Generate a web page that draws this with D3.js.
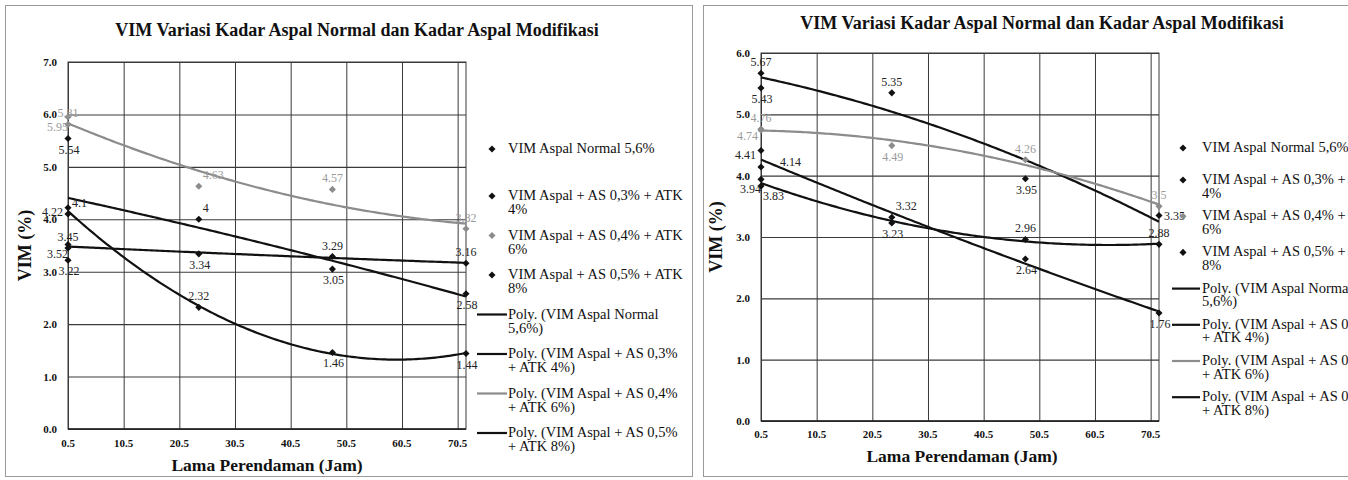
<!DOCTYPE html>
<html>
<head>
<meta charset="utf-8">
<script src="https://cdn.jsdelivr.net/npm/d3@7/dist/d3.min.js"></script>
<style>
body { margin: 0; background: #fff; }
text { font-family: "Liberation Serif", "Times New Roman", serif; fill: #111; }
</style>
</head>
<body>
<svg id="chart" width="1348" height="480"></svg>
<script>
// Data
const hours = [0.5, 0.5, 24, 48, 72];   // two readings at 0.5 h
const xTickValues = [0.5, 10.5, 20.5, 30.5, 40.5, 50.5, 60.5, 70.5];
const chartTitle = 'VIM Variasi Kadar Aspal Normal dan Kadar Aspal Modifikasi';
const xTitle = 'Lama Perendaman (Jam)';
const yTitle = 'VIM (%)';

const seriesLegend = [
    ['VIM Aspal Normal 5,6%'],
    ['VIM Aspal + AS 0,3% + ATK', '4%'],
    ['VIM Aspal + AS 0,4% + ATK', '6%'],
    ['VIM Aspal + AS 0,5% + ATK', '8%']
];
const trendLegend = [
    ['Poly. (VIM Aspal Normal', '5,6%)'],
    ['Poly. (VIM Aspal + AS 0,3%', '+ ATK 4%)'],
    ['Poly. (VIM Aspal + AS 0,4%', '+ ATK 6%)'],
    ['Poly. (VIM Aspal + AS 0,5%', '+ ATK 8%)']
];

// left chart
const leftYTicks = [0, 1, 2, 3, 4, 5, 6, 7];
const leftNormal = [3.52, 3.45, 3.34, 3.29, 3.16];
const leftAS03 = [5.54, 3.22, 4, 3.05, 2.58];
const leftAS04 = [5.81, 5.95, 4.63, 4.57, 3.82];
const leftAS05 = [4.1, 4.22, 2.32, 1.46, 1.44];

// right chart
const rightYTicks = [0, 1, 2, 3, 4, 5, 6];
const rightNormal = [3.94, 3.83, 3.23, 2.96, 2.88];
const rightAS03 = [5.67, 5.43, 5.35, 3.95, 3.35];
const rightAS04 = [4.76, 4.74, 4.49, 4.26, 3.5];
const rightAS05 = [4.41, 4.14, 3.32, 2.64, 1.76];

// label placement (a above, b below, l left, r right, corners)
const leftLabelPos = [
    ['bl', 'a', 'b', 'a', 'a'],
    ['b', 'b', 'ar', 'b', 'b'],
    ['a', 'bl', 'ar', 'a', 'a'],
    ['ar', 'l', 'a', 'b', 'b']
];
const rightLabelPos = [
    ['bl', 'br', 'b', 'a', 'a'],
    ['a', 'b', 'a', 'b', 'r'],
    ['a', 'lb', 'b', 'a', 'a'],
    ['l', 'rr', 'ar', 'b', 'b']
];

const seriesColors = ['#111', '#111', '#8c8c8c', '#111'];
const labelColors = ['#222', '#222', '#9a9a9a', '#222'];

const svg = d3.select('#chart');

//Panel frames
svg.append('rect').attr('x', 5.5).attr('y', 5.5).attr('width', 687).attr('height', 471)
    .attr('fill', 'none').attr('stroke', '#9a9a9a');
svg.append('rect').attr('x', 703.5).attr('y', 5.5).attr('width', 700).attr('height', 471)
    .attr('fill', 'none').attr('stroke', '#9a9a9a');

//Quadratic least squares fit (Excel "Poly." trendline, order 2)
function polyfit2(xs, ys) {
    const S = [[0, 0, 0], [0, 0, 0], [0, 0, 0]];
    const T = [0, 0, 0];
    xs.forEach((x, i) => {
        const p = [1, x, x * x];
        for (let r = 0; r < 3; r++) {
            T[r] += p[r] * ys[i];
            for (let c = 0; c < 3; c++) S[r][c] += p[r] * p[c];
        }
    });
    // gaussian elimination
    const M = S.map((row, i) => row.concat(T[i]));
    for (let i = 0; i < 3; i++) {
        for (let k = i + 1; k < 3; k++) {
            const f = M[k][i] / M[i][i];
            for (let j = i; j < 4; j++) M[k][j] -= f * M[i][j];
        }
    }
    const coef = [0, 0, 0];
    for (let i = 2; i >= 0; i--) {
        let s = M[i][3];
        for (let j = i + 1; j < 3; j++) s -= M[i][j] * coef[j];
        coef[i] = s / M[i][i];
    }
    return x => coef[0] + coef[1] * x + coef[2] * x * x;
}

const labelOffset = {
    a:  {dx: 0, dy: -7, anchor: 'middle'},
    b:  {dx: 1, dy: 15, anchor: 'middle'},
    l:  {dx: -5, dy: 8, anchor: 'end'},
    lb: {dx: -3, dy: 10, anchor: 'end'},
    r:  {dx: 5, dy: 4, anchor: 'start'},
    rr: {dx: 19, dy: -1, anchor: 'start'},
    ar: {dx: 4, dy: -7, anchor: 'start'},
    br: {dx: 2, dy: 14, anchor: 'start'},
    bl: {dx: 0, dy: 14, anchor: 'end'}
};

function drawChart(cfg) {
    const g = svg.append('g');
    const x = d3.scaleLinear().domain([0.5, 72]).range([cfg.left, cfg.right]);
    const y = d3.scaleLinear().domain([0, d3.max(cfg.yTicks)]).range([cfg.bottom, cfg.top]);

    //Title
    g.append('text')
        .attr('x', cfg.titleX).attr('y', cfg.titleY)
        .attr('text-anchor', 'middle')
        .style('font-size', '18px').style('font-weight', 'bold')
        .text(chartTitle);

    //Grid lines
    g.append('g')
        .attr('transform', `translate(${cfg.left}, 0)`)
        .call(d3.axisLeft(y).tickValues(cfg.yTicks).tickSize(-(cfg.right - cfg.left)).tickFormat(''))
        .call(a => a.select('.domain').remove())
        .call(a => a.selectAll('line').attr('stroke', '#3a3a3a').attr('stroke-width', 1.1));
    g.append('g')
        .attr('transform', `translate(0, ${cfg.bottom})`)
        .call(d3.axisBottom(x).tickValues(xTickValues).tickSize(-(cfg.bottom - cfg.top)).tickFormat(''))
        .call(a => a.select('.domain').remove())
        .call(a => a.selectAll('line').attr('stroke', '#3a3a3a').attr('stroke-width', 1));
    g.append('rect')
        .attr('x', cfg.left).attr('y', cfg.top)
        .attr('width', cfg.right - cfg.left).attr('height', cfg.bottom - cfg.top)
        .attr('fill', 'none').attr('stroke', '#3a3a3a');
    g.append('line')
        .attr('x1', cfg.left).attr('x2', cfg.right)
        .attr('y1', cfg.bottom).attr('y2', cfg.bottom)
        .attr('stroke', '#222').attr('stroke-width', 1.6);

    //Tick labels
    g.selectAll('.ytl').data(cfg.yTicks).enter().append('text')
        .attr('x', cfg.yLabelEnd).attr('y', d => y(d) + 4)
        .attr('text-anchor', 'end')
        .style('font-size', '11px').style('font-weight', 'bold')
        .text(d => d3.format('.1f')(d));
    g.selectAll('.xtl').data(xTickValues).enter().append('text')
        .attr('x', d => x(d)).attr('y', cfg.xLabelY)
        .attr('text-anchor', 'middle')
        .style('font-size', '11px').style('font-weight', 'bold')
        .text(d => d3.format('.1f')(d));

    //Axis titles
    g.append('text')
        .attr('x', cfg.xTitleX).attr('y', cfg.xTitleY)
        .attr('text-anchor', 'middle')
        .style('font-size', '17.5px').style('font-weight', 'bold')
        .text(xTitle);
    g.append('text')
        .attr('transform', `translate(${cfg.yTitleX}, ${(cfg.top + cfg.bottom) / 2}) rotate(-90)`)
        .attr('text-anchor', 'middle')
        .style('font-size', '18px').style('font-weight', 'bold')
        .text(yTitle);

    //Trend lines
    const line = d3.line().x(d => x(d[0])).y(d => y(d[1]));
    cfg.series.forEach((vals, i) => {
        const f = polyfit2(hours, vals);
        const pts = d3.range(0.5, 72.01, 0.5).map(h => [h, f(h)]);
        g.append('path')
            .attr('d', line(pts))
            .attr('fill', 'none')
            .attr('stroke', seriesColors[i])
            .attr('stroke-width', 2.2);
    });

    //Markers and labels
    const diamond = d3.symbol().type(d3.symbolDiamond2).size(32);
    cfg.series.forEach((vals, i) => {
        const pts = vals.map((v, j) => ({h: hours[j], v: v, pos: cfg.labelPos[i][j]}));
        g.selectAll(null).data(pts).enter().append('path')
            .attr('d', diamond)
            .attr('transform', d => `translate(${x(d.h)}, ${y(d.v)})`)
            .attr('fill', seriesColors[i]);
        g.selectAll(null).data(pts).enter().append('text')
            .attr('x', d => x(d.h) + labelOffset[d.pos].dx)
            .attr('y', d => y(d.v) + labelOffset[d.pos].dy)
            .attr('text-anchor', d => labelOffset[d.pos].anchor)
            .style('font-size', '12px')
            .style('fill', labelColors[i])
            .text(d => String(d.v));
    });

    //Legend
    const items = seriesLegend.map((t, i) => ({lines: t, kind: 'marker', i: i}))
        .concat(trendLegend.map((t, i) => ({lines: t, kind: 'line', i: i})));
    items.forEach((d, k) => {
        const base = k === 0 ? cfg.legendFirst : cfg.legendTop + (k - 1) * cfg.legendStep;
        if (d.kind === 'marker') {
            g.append('path').attr('d', diamond)
                .attr('transform', `translate(${cfg.legendMarkX}, ${base - 4})`)
                .attr('fill', seriesColors[d.i]);
        } else {
            g.append('line')
                .attr('x1', cfg.legendLineX[0]).attr('x2', cfg.legendLineX[1])
                .attr('y1', base - 4).attr('y2', base - 4)
                .attr('stroke', seriesColors[d.i]).attr('stroke-width', 2.2);
        }
        const t = g.append('text')
            .attr('x', cfg.legendTextX).attr('y', base)
            .style('font-size', '14.5px');
        d.lines.forEach((s, n) => {
            t.append('tspan').attr('x', cfg.legendTextX).attr('dy', n === 0 ? 0 : cfg.legendLine).text(s);
        });
    });
}

drawChart({
    series: [leftNormal, leftAS03, leftAS04, leftAS05],
    labelPos: leftLabelPos,
    yTicks: leftYTicks,
    left: 68, right: 466, top: 62, bottom: 429,
    titleX: 357, titleY: 36,
    yLabelEnd: 57, xLabelY: 447,
    xTitleX: 267, xTitleY: 471, yTitleX: 31,
    legendFirst: 153, legendTop: 200, legendStep: 39.5, legendLine: 14,
    legendMarkX: 492, legendTextX: 508, legendLineX: [477, 507]
});

drawChart({
    series: [rightNormal, rightAS03, rightAS04, rightAS05],
    labelPos: rightLabelPos,
    yTicks: rightYTicks,
    left: 761, right: 1159, top: 53, bottom: 421,
    titleX: 1042, titleY: 29,
    yLabelEnd: 750, xLabelY: 438,
    xTitleX: 962, xTitleY: 462, yTitleX: 722,
    legendFirst: 152, legendTop: 184, legendStep: 36.2, legendLine: 13.5,
    legendMarkX: 1183, legendTextX: 1202, legendLineX: [1172, 1200]
});
</script>
</body>
</html>
